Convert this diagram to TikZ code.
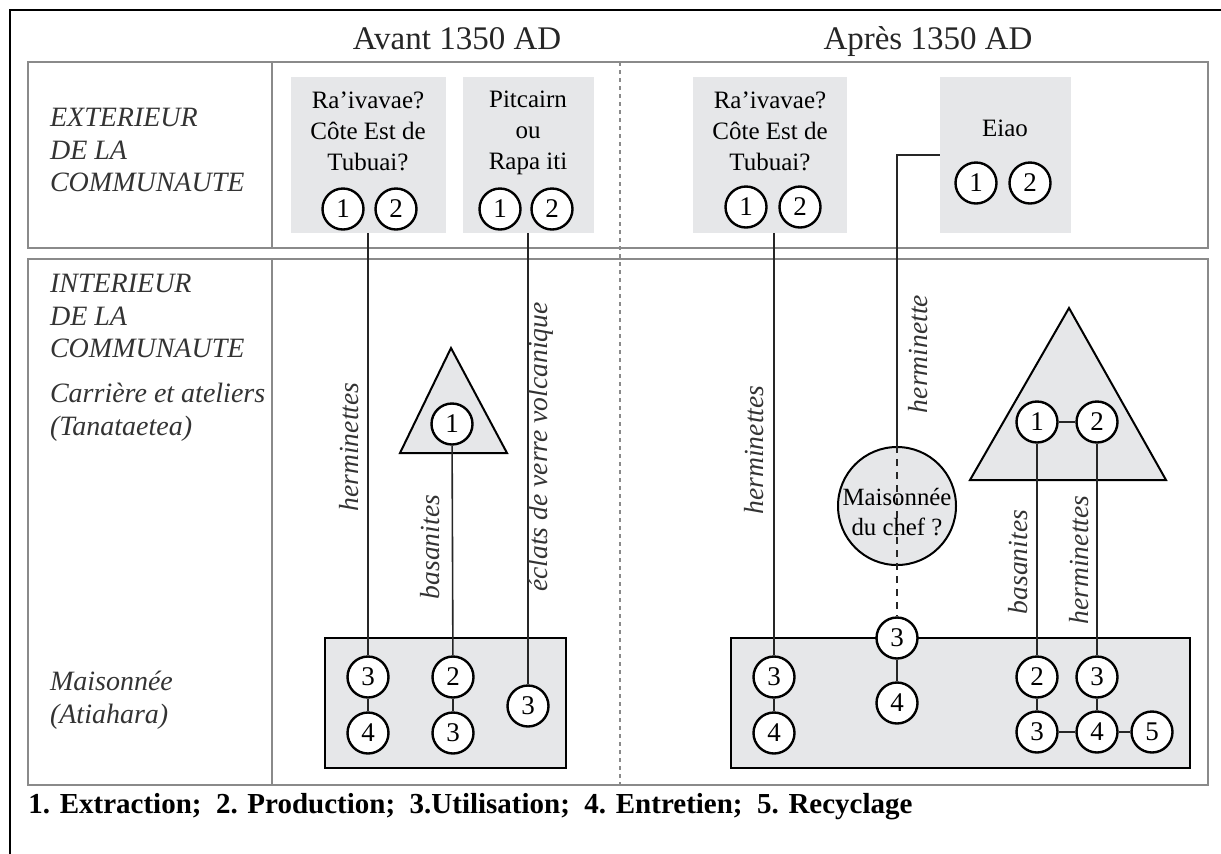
\documentclass[tikz,border=0pt]{standalone}
\usepackage{fontspec}
\setmainfont{Liberation Serif}
\usetikzlibrary{positioning,fit}
\definecolor{boxgray}{HTML}{E6E7E9}
\definecolor{bandgray}{HTML}{8A8A8A}
\tikzset{c/.style={circle,draw,line width=1.2pt,fill=white,minimum size=20.5pt,inner sep=0pt,font=\fontsize{13.5}{13.5}\selectfont},
	gb/.style={fill=boxgray,inner sep=0pt},
	hb/.style={draw,line width=1pt,fill=boxgray,inner sep=0pt},
	bt/.style={align=center,font=\fontsize{12.5}{15.5}\selectfont},
	lab/.style={anchor=west,align=left,font=\fontsize{14}{16.25}\selectfont\itshape,text=black!80},
	lb/.style={rotate=90,font=\fontsize{13.8}{14}\selectfont\itshape,text=black!80},
	tt/.style={anchor=base,font=\fontsize{16.5}{18}\selectfont,text=black!85},
	band/.style={draw=bandgray,line width=1pt},
	ln/.style={line width=0.8pt,black!85}}

\begin{document}
\begin{tikzpicture}[x=0.5pt,y=-0.5pt]
	\useasboundingbox (0,0) rectangle (1221,853);
	\draw[line width=1pt] (10,870) -- (10,10) -- (1240,10);
	\node[tt] (avant) at (457,49) {Avant 1350 AD};
	\node[tt] (apres) at (928,49) {Après 1350 AD};
	\draw[band] (28,62) rectangle (1208,248);
	\draw[band] (28,259) rectangle (1208,785);
	\draw[bandgray,line width=0.8pt] (272,62) -- (272,248) (272,259) -- (272,785);
	\draw[bandgray,line width=0.6pt,dash pattern=on 2pt off 2pt] (620,62) -- (620,785);
	\node[lab] (ext) at (43,150) {EXTERIEUR\\DE LA\\COMMUNAUTE};
	\node[lab] (int) at (43,316) {INTERIEUR\\DE LA\\COMMUNAUTE};
	\node[lab] (carr) at (43,412) {Carrière et ateliers\\(Tanataetea)};
	\node[lab] (mais) at (43,700) {Maisonnée\\(Atiahara)};
	\node[gb,fit={(291,77) (446,233)}] (A) {};
	\node[gb,fit={(463,77) (594,233)}] (B) {};
	\node[gb,fit={(693,77) (847,233)}] (C) {};
	\node[gb,fit={(940,77) (1071,233)}] (D) {};
	\node[bt] at (368,131) {Ra'ivavae?\\Côte Est de\\Tubuai?};
	\node[bt] at (528,133) {Pitcairn\\ou\\Rapa iti};
	\node[bt] at (770,131) {Ra'ivavae?\\Côte Est de\\Tubuai?};
	\node[bt] at (1005,128) {Eiao};
	\node[c] (a1) at (343,209) {1};
	\node[c] (a2) at (396,209) {2};
	\node[c] (b1) at (500,209) {1};
	\node[c] (b2) at (552,209) {2};
	\node[c] (c1) at (746,207) {1};
	\node[c] (c2) at (800,207) {2};
	\node[c] (d1) at (976,183) {1};
	\node[c] (d2) at (1030,183) {2};
	\draw[line width=1pt,fill=boxgray] (451,348) -- (507,453) -- (400,453) -- cycle;
	\draw[line width=1pt,fill=boxgray] (1069,308) -- (1166,480) -- (970,480) -- cycle;
	\node[hb,fit={(325,638) (566,768)}] (H1) {};
	\node[hb,fit={(731,638) (1190,768)}] (H2) {};
	\node[c] (l1) at (452,424) {1};
	\node[c] (t1) at (1037,422) {1};
	\node[c] (t2) at (1097,422) {2};
	\node[circle,draw,line width=1pt,fill=boxgray,minimum size=59pt,inner sep=0pt] (chef) at (897,506) {};
	\node[c] (h3) at (368,677) {3};
	\node[c] (h4) at (368,733) {4};
	\node[c] (p2) at (453,677) {2};
	\node[c] (p3) at (453,733) {3};
	\node[c] (v3) at (528,706) {3};
	\node[c] (r3) at (774,677) {3};
	\node[c] (r4) at (774,733) {4};
	\node[c] (m3) at (897,638) {3};
	\node[c] (m4) at (897,703) {4};
	\node[c] (s2) at (1037,677) {2};
	\node[c] (s3) at (1097,677) {3};
	\node[c] (u3) at (1037,732) {3};
	\node[c] (u4) at (1097,732) {4};
	\node[c] (u5) at (1152,732) {5};
	\draw[ln] (h3 |- A.south) -- (h3);
	\draw[ln] (v3 |- B.south) -- (v3);
	\draw[ln] (l1) -- (p2);
	\draw[ln] (h3) -- (h4) (p2) -- (p3);
	\draw[ln] (r3 |- C.south) -- (r3);
	\draw[ln] (D.west) -| (chef.north);
	\draw[ln,dash pattern=on 3.5pt off 3pt] (chef.north) -- (m3);
	\node[bt,font=\fontsize{12.4}{15}\selectfont] (chefl) at (897,512) {Maisonnée\\du chef ?};
	\draw[ln] (t1) -- (t2) (t1) -- (s2) (t2) -- (s3);
	\draw[ln] (r3) -- (r4) (m3) -- (m4) (s2) -- (u3) (s3) -- (u4) (u3) -- (u4) -- (u5);
	\node[lb] at (349,447) {herminettes};
	\node[lb] at (430,547) {basanites};
	\node[lb] at (541,447) {éclats de verre volcanique};
	\node[lb] at (754,450) {herminettes};
	\node[lb] at (918,354) {herminette};
	\node[lb] at (1018,562) {basanites};
	\node[lb] at (1079,560) {herminettes};
	\node[anchor=base west,font=\fontsize{14.5}{16}\selectfont\bfseries,inner sep=0pt] (leg) at (28,813) {1. Extraction;~ 2. Production;~ 3.Utilisation;~ 4. Entretien;~ 5. Recyclage};
\end{tikzpicture}
\end{document}
